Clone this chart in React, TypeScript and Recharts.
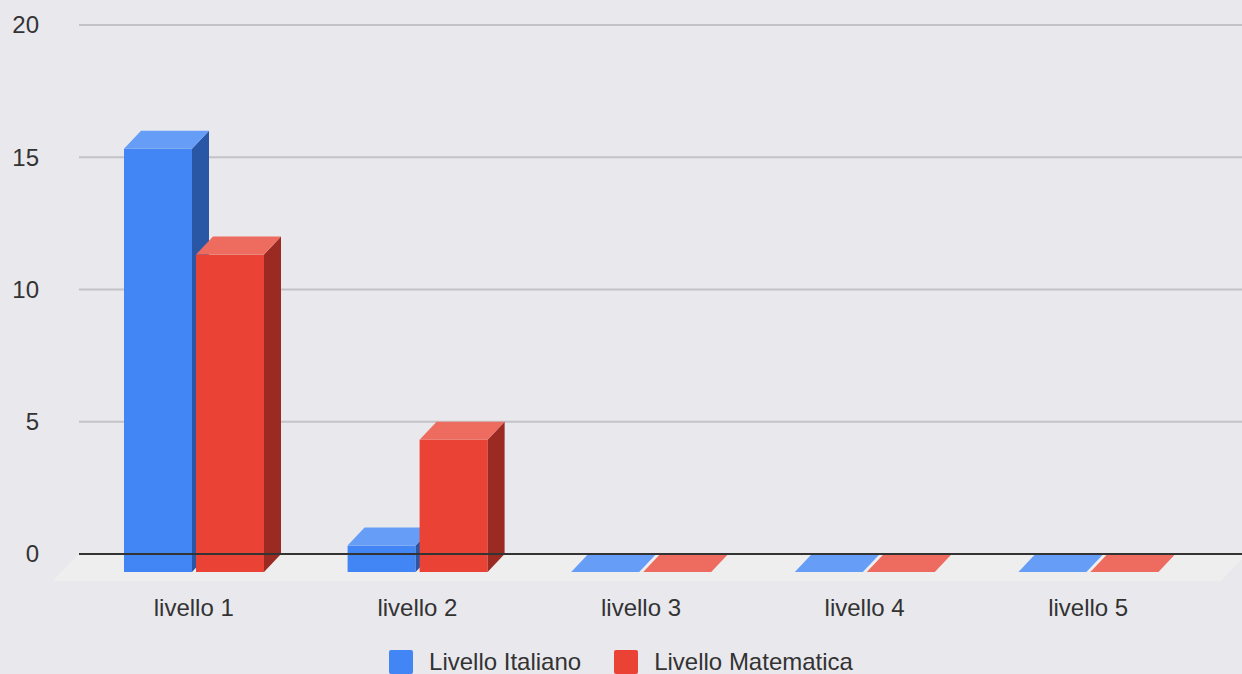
import React from "react";
import {
  BarChart,
  Bar,
  XAxis,
  YAxis,
  CartesianGrid,
  ReferenceLine,
  ReferenceArea,
  Legend,
} from "recharts";

const categories = ["livello 1", "livello 2", "livello 3", "livello 4", "livello 5"];
const italiano = [16, 1, 0, 0, 0];
const matematica = [12, 5, 0, 0, 0];
const yTicks = [0, 5, 10, 15, 20];

const data = categories.map((name, i) => ({
  name,
  italiano: italiano[i],
  matematica: matematica[i],
}));

const BG = "#e9e8ed";
const FONT = "'Liberation Sans', Arial, sans-serif";
const TEXT = "#333";
const PAD_L = 20;
const PAD_R = 25;
// depth of the 3d bars
const DX = 17;
const DY = 18;

const make3D = (front: string, top: string, side: string) => (props: any) => {
  const { x, y, width, height } = props;
  // recharts gives back-plane coords, front face moves down/left
  const fx = x - DX;
  const fy = y + DY;
  const h = Math.max(height, 0);
  const w = width;
  return (
    <g>
      {h > 0 && <rect x={fx} y={fy} width={w} height={h} fill={front} />}
      {h > 0 && (
        <path
          d={`M${fx + w},${fy}L${fx + w + DX},${fy - DY}L${fx + w + DX},${fy + h - DY}L${fx + w},${fy + h}Z`}
          fill={side}
        />
      )}
      <path
        d={`M${fx},${fy}L${fx + w},${fy}L${fx + w + DX},${fy - DY}L${fx + DX},${fy - DY}Z`}
        fill={top}
      />
    </g>
  );
};

// floor under the zero line, stretched back over the axis padding
const Floor = (props: any) => {
  const { x, y, width, height } = props;
  const base = y + height;
  const l = x - PAD_L;
  const r = x + width + PAD_R + 5;
  const d = `M${l},${base}L${r},${base}L${r - 26},${base + 27}L${l - 26},${base + 27}Z`;
  return <path d={d} fill="#eeeeef" />;
};

const YTick = ({ y, payload }: any) => (
  <text x={39} y={y} dy="0.35em" textAnchor="end" fill={TEXT} fontSize={24} fontFamily={FONT}>
    {payload.value}
  </text>
);

const XTick = ({ x, payload }: any) => (
  <text x={x - DX} y={616} textAnchor="middle" fill={TEXT} fontSize={24} fontFamily={FONT}>
    {payload.value}
  </text>
);

const legendItems = [
  { label: "Livello Italiano", color: "#4285f4" },
  { label: "Livello Matematica", color: "#ea4335" },
];

const LegendContent = () => (
  <div
    style={{
      display: "flex",
      justifyContent: "center",
      alignItems: "center",
      fontFamily: FONT,
      fontSize: 24,
      lineHeight: "24px",
      color: TEXT,
    }}
  >
    {legendItems.map((it, i) => (
      <div key={i} style={{ display: "flex", alignItems: "center", marginLeft: i ? 33 : 0 }}>
        <div style={{ width: 24, height: 24, background: it.color, borderRadius: 2, marginRight: 16 }} />
        <span>{it.label}</span>
      </div>
    ))}
  </div>
);

export default function App() {
  return (
    <div style={{ width: 1242, height: 674, background: BG, overflow: "hidden", position: "relative" }}>
      <style>{`body{margin:0;background:${BG}}`}</style>
      <BarChart
        width={1242}
        height={674}
        data={data}
        margin={{ top: 25, right: 0, bottom: 0, left: 0 }}
        barSize={68}
        barGap={4}
      >
        <CartesianGrid vertical={false} stroke="#c3c3c7" strokeWidth={2} />
        <YAxis
          domain={[0, 20]}
          ticks={yTicks}
          width={79}
          axisLine={false}
          tickLine={false}
          tick={<YTick />}
        />
        <XAxis
          dataKey="name"
          height={120}
          padding={{ left: PAD_L, right: PAD_R }}
          axisLine={false}
          tickLine={false}
          tick={<XTick />}
          interval={0}
        />
        <ReferenceArea y1={0} y2={1} ifOverflow="visible" shape={<Floor />} />
        <ReferenceLine y={0} stroke="#333" strokeWidth={2} />
        <Legend
          verticalAlign="middle"
          align="center"
          content={<LegendContent />}
          wrapperStyle={{ top: 650, left: 0, width: 1242 }}
        />
        <Bar
          dataKey="italiano"
          name="Livello Italiano"
          fill="#4285f4"
          isAnimationActive={false}
          shape={make3D("#4285f4", "#669df6", "#2a56a6")}
        />
        <Bar
          dataKey="matematica"
          name="Livello Matematica"
          fill="#ea4335"
          isAnimationActive={false}
          shape={make3D("#ea4335", "#ee6b5f", "#9a2a22")}
        />
      </BarChart>
    </div>
  );
}
